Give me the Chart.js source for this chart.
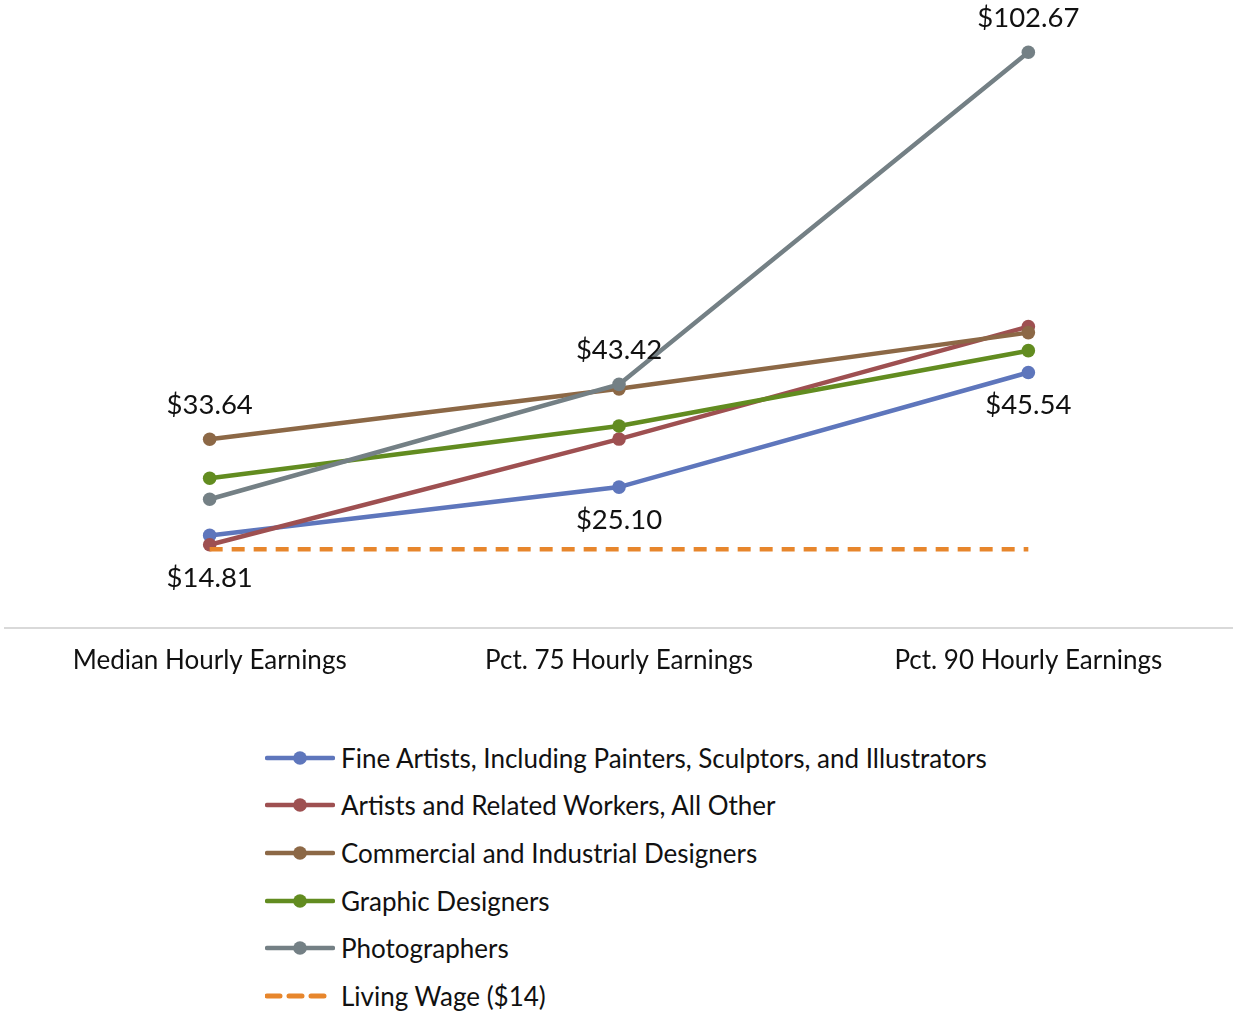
<!DOCTYPE html>
<html>
<head>
<meta charset="utf-8">
<script src="https://cdn.jsdelivr.net/npm/chart.js@4.4.1/dist/chart.umd.min.js"></script>
<style>
  html, body { margin: 0; padding: 0; background: #fff; }
  #wrap { width: 1233px; height: 1013px; position: relative; font-family: Lato, "Open Sans", sans-serif; }
  #chartBox { position: absolute; left: 0; top: 0; width: 1233px; height: 700px; }
  #legend { position: absolute; left: 265px; top: 734px; margin: 0; padding: 0; list-style: none; }
  #legend li { display: flex; align-items: center; height: 47.6px; font-size: 26px; color: #111; }
  #legend svg { margin-right: 6px; }
</style>
</head>
<body>
<div id="wrap">
  <div id="chartBox"><canvas id="grafik"></canvas></div>
  <ul id="legend"></ul>
</div>
<script>
// categories and series (hourly earnings, dollars)
const categories = ["Median Hourly Earnings", "Pct. 75 Hourly Earnings", "Pct. 90 Hourly Earnings"];
const seriesNames = [
  "Fine Artists, Including Painters, Sculptors, and Illustrators",
  "Artists and Related Workers, All Other",
  "Commercial and Industrial Designers",
  "Graphic Designers",
  "Photographers",
  "Living Wage ($14)"
];
const fineArtists = [16.48, 25.10, 45.54];
const otherArtists = [14.81, 33.67, 53.73];
const commercialDesigners = [33.64, 42.63, 52.66];
const graphicDesigners = [26.69, 36.00, 49.44];
const photographers = [22.93, 43.42, 102.67];
const livingWage = [14, 14, 14];

const colors = ["#5e76bc", "#9e5051", "#8c6846", "#628c20", "#748085", "#e7862c"];
const allSeries = [fineArtists, otherArtists, commercialDesigners, graphicDesigners, photographers, livingWage];
const FONT = "Lato, 'Open Sans', sans-serif";

const datasets = allSeries.map((vals, i) => {
  const dashed = i === 5;
  return {
    label: seriesNames[i],
    data: vals,
    borderColor: colors[i],
    backgroundColor: colors[i],
    borderWidth: 4.5,
    borderDash: dashed ? [13, 9] : [],
    pointRadius: dashed ? 0 : 6.8,
    pointHoverRadius: dashed ? 0 : 6.8,
    pointBorderWidth: 0,
    tension: 0,
    order: 10 - i
  };
});

// value labels: highest and lowest occupation at each category
const valueLabels = {
  id: "valueLabels",
  afterDatasetsDraw(chart) {
    const ctx = chart.ctx;
    ctx.save();
    ctx.font = "27.5px " + FONT;
    ctx.fillStyle = "#111";
    ctx.textAlign = "center";
    ctx.textBaseline = "middle";
    categories.forEach((c, j) => {
      let hi = 0, lo = 0;
      for (let i = 0; i < 5; i++) {
        if (allSeries[i][j] > allSeries[hi][j]) hi = i;
        if (allSeries[i][j] < allSeries[lo][j]) lo = i;
      }
      const pHi = chart.getDatasetMeta(hi).data[j];
      const pLo = chart.getDatasetMeta(lo).data[j];
      ctx.fillText("$" + allSeries[hi][j].toFixed(2), pHi.x, pHi.y - 34);
      ctx.fillText("$" + allSeries[lo][j].toFixed(2), pLo.x, pLo.y + 33);
    });
    ctx.restore();
  }
};

const ctx = document.getElementById("grafik").getContext("2d");
const chart = new Chart(ctx, {
  type: "line",
  data: { labels: categories, datasets: datasets },
  options: {
    responsive: true,
    maintainAspectRatio: false,
    animation: false,
    layout: { autoPadding: false, padding: { left: 5, right: 0, top: 0, bottom: 7 } },
    plugins: {
      legend: { display: false },
      tooltip: { enabled: false }
    },
    scales: {
      x: {
        offset: true,
        grid: { display: false, drawTicks: false },
        border: { display: true, color: "#d9d9d9", width: 2 },
        ticks: { color: "#111", font: { family: FONT, size: 26 }, padding: 17, maxRotation: 0 }
      },
      y: {
        display: false,
        min: 0,
        max: 112
      }
    }
  },
  plugins: [valueLabels]
});

// html legend, one item per line
const legendEl = document.getElementById("legend");
chart.data.datasets.forEach((ds, i) => {
  const li = document.createElement("li");
  const dashed = ds.borderDash.length > 0;
  const mark = dashed
    ? `<line x1="2" y1="8" x2="68" y2="8" stroke="${ds.borderColor}" stroke-width="5" stroke-dasharray="13 9" stroke-linecap="round"/>`
    : `<line x1="2" y1="8" x2="68" y2="8" stroke="${ds.borderColor}" stroke-width="4.5" stroke-linecap="round"/><circle cx="35" cy="8" r="6.8" fill="${ds.borderColor}"/>`;
  li.innerHTML = `<svg width="70" height="16">${mark}</svg><span>${ds.label}</span>`;
  legendEl.appendChild(li);
});
</script>
</body>
</html>
